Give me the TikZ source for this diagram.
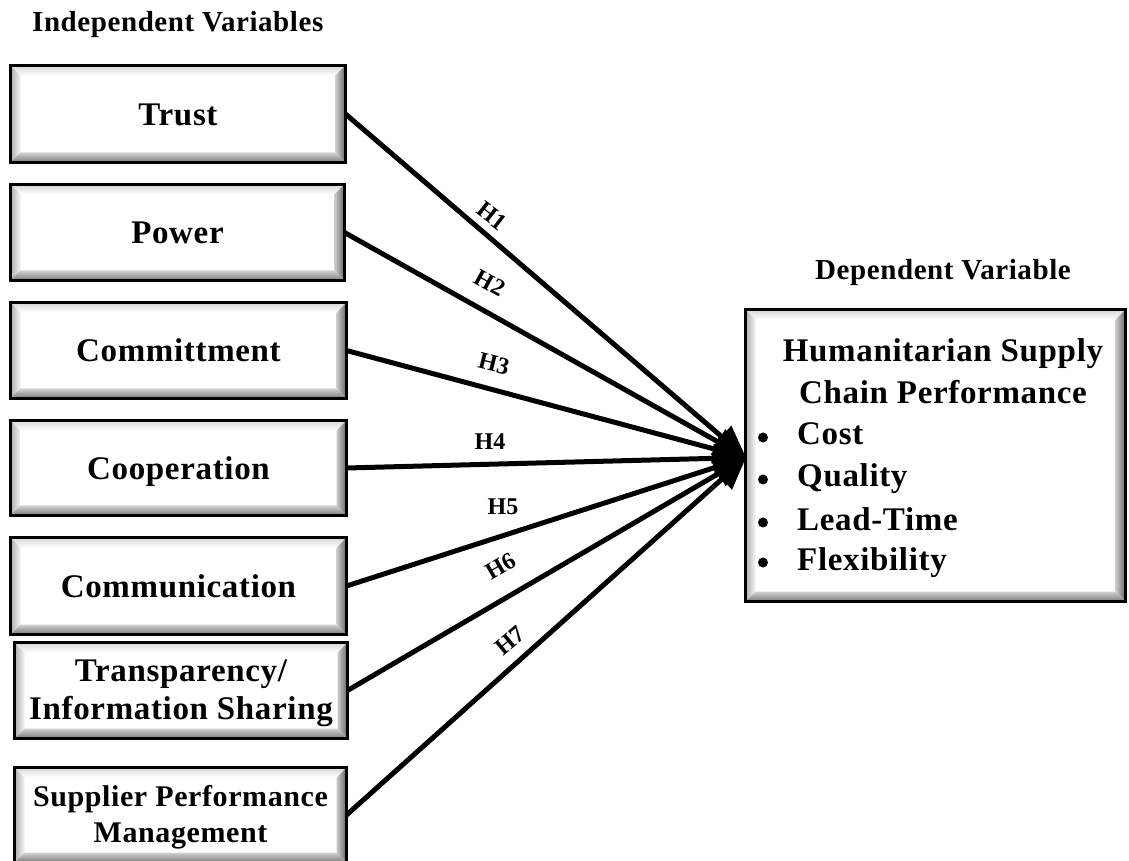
\documentclass[tikz,border=0pt]{standalone}
\usepackage{fontspec}
\setmainfont{Liberation Serif}[LetterSpace=2]
\newfontfamily\labelfont{Liberation Serif}
\usetikzlibrary{arrows.meta,calc}

\newcommand\bevw{10}

\tikzset{
  bevelbox/.style={
    draw=black, line width=3pt, fill=white, inner sep=0pt, outer sep=0pt,
    align=center, font=\fontsize{33}{38}\selectfont\bfseries,
    path picture={
      \path (path picture bounding box.north west) coordinate (pbNW)
            (path picture bounding box.north east) coordinate (pbNE)
            (path picture bounding box.south west) coordinate (pbSW)
            (path picture bounding box.south east) coordinate (pbSE);
      % top face of the bevel
      \shade[top color=black!16, bottom color=white]
        (pbNW) -- (pbNE) -- ($(pbNE)+(-\bevw,-\bevw)$) -- ($(pbNW)+(\bevw,-\bevw)$) -- cycle;
      % left face
      \shade[left color=black!32, right color=black!4]
        (pbNW) -- ($(pbNW)+(\bevw,-\bevw)$) -- ($(pbSW)+(\bevw,\bevw)$) -- (pbSW) -- cycle;
      % right face
      \shade[left color=black!20, right color=black!60]
        (pbNE) -- (pbSE) -- ($(pbSE)+(-\bevw,\bevw)$) -- ($(pbNE)+(-\bevw,-\bevw)$) -- cycle;
      % bottom face
      \shade[top color=black!18, bottom color=black!52]
        (pbSW) -- (pbSE) -- ($(pbSE)+(-\bevw,\bevw)$) -- ($(pbSW)+(\bevw,\bevw)$) -- cycle;
    }},
  oneline/.style={text height=22.5pt, text depth=0pt},
  heading/.style={inner sep=0pt, font=\fontsize{29}{34}\selectfont\bfseries},
  dvtext/.style={inner sep=0pt, font=\fontsize{33}{38}\selectfont\bfseries},
  dot/.style={circle, fill=black, inner sep=0pt, minimum size=10pt},
  conn/.style={line width=5pt, black, -{Triangle[length=32pt,width=28pt]}},
  hlab/.style={inner sep=1pt, font=\labelfont\fontsize{24}{28}\selectfont\bfseries},
}

\begin{document}
\begin{tikzpicture}[x=1pt, y=1pt]
  \useasboundingbox (0,0) rectangle (1129,860);

  % column headings
  \node[heading, anchor=base west] (indep) at (32,828) {Independent Variables};
  \node[heading, anchor=base] (dep) at (943,580) {Dependent Variable};

  % independent variables
  \node[bevelbox, oneline, minimum width=335pt, minimum height=97pt] (trust) at (178,746) {Trust};
  \node[bevelbox, oneline, minimum width=334pt, minimum height=96pt] (power) at (177.5,627.5) {Power};
  \node[bevelbox, oneline, minimum width=336pt, minimum height=96pt] (commit) at (178.5,509.5) {Committment};
  \node[bevelbox, oneline, minimum width=336pt, minimum height=95pt] (coop) at (178.5,392) {Cooperation};
  \node[bevelbox, oneline, minimum width=336pt, minimum height=97pt] (comm) at (178.5,274) {Communication};
  \node[bevelbox, minimum width=333pt, minimum height=96pt] (transp) at (181,169.5)
    {\rule{0pt}{28.2pt}Transparency/\\Information Sharing};
  \node[bevelbox, minimum width=332pt, minimum height=95pt, font=\fontsize{30}{36}\selectfont\bfseries] (supp) at (180.5,45)
    {\rule{0pt}{26.5pt}Supplier Performance\\Management};

  % dependent variable
  \node[bevelbox, minimum width=380pt, minimum height=292pt] (dv) at (935.5,404.5) {};
  \node[dvtext, anchor=base] (dvt1) at (943,498.3) {Humanitarian Supply};
  \node[dvtext, anchor=base] (dvt2) at (943,456.7) {Chain Performance};
  \node[dvtext, anchor=base west] (cost) at (797,415) {Cost};
  \node[dvtext, anchor=base west] (qual) at (797,373) {Quality};
  \node[dvtext, anchor=base west] (lead) at (797,330) {Lead-Time};
  \node[dvtext, anchor=base west] (flex) at (797,290) {Flexibility};
  \node[dot] (b1) at (763,422.5) {};
  \node[dot] (b2) at (763,380.5) {};
  \node[dot] (b3) at (763,337.5) {};
  \node[dot] (b4) at (763,297.5) {};

  % common arrow point on the dependent box
  \coordinate (tip) at (746,402.5);

  % hypothesised paths
  \draw[conn] (trust.east)  -- (tip);
  \draw[conn] (power.east)  -- (tip);
  \draw[conn] (commit.east) -- (tip);
  \draw[conn] (coop.east)   -- (tip);
  \draw[conn] (comm.east)   -- (tip);
  \draw[conn] (transp.east) -- (tip);
  \draw[conn] (supp.east)   -- (tip);

  % path labels
  \node[hlab, rotate=-38] (h1) at (492,644) {H1};
  \node[hlab, rotate=-29] (h2) at (490,577) {H2};
  \node[hlab, rotate=-14] (h3) at (494,496) {H3};
  \node[hlab] (h4) at (490,418) {H4};
  \node[hlab] (h5) at (503,353) {H5};
  \node[hlab, rotate=30] (h6) at (501,294) {H6};
  \node[hlab, rotate=40] (h7) at (510,219) {H7};
\end{tikzpicture}
\end{document}
